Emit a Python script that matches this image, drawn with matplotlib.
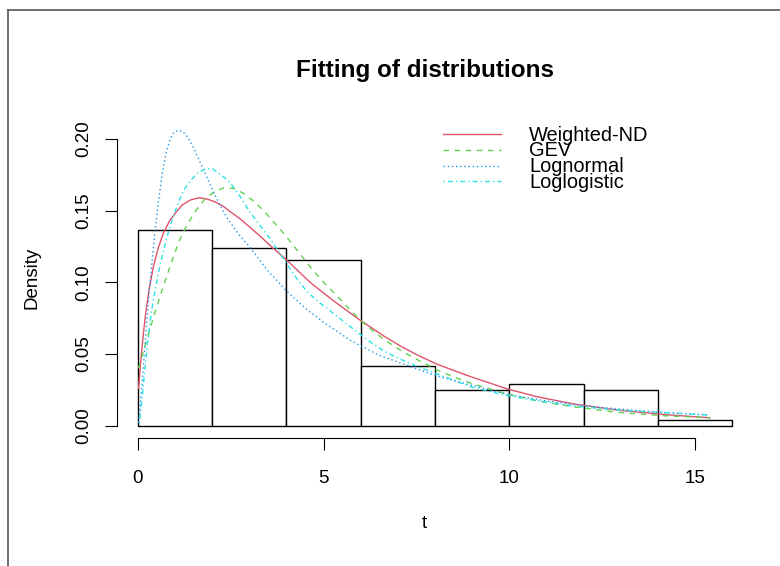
import numpy as np
import matplotlib
matplotlib.use("Agg")
import matplotlib.pyplot as plt
from matplotlib.lines import Line2D

plt.rcParams['font.family'] = ['Liberation Sans', 'DejaVu Sans']

# Histogram of observed t values
bin_edges = [0, 2, 4, 6, 8, 10, 12, 14, 16]
bin_counts = [33, 30, 28, 10, 6, 7, 6, 1]

# Fitted densities evaluated along t
wnd_t = [0.02, 0.08, 0.15, 0.22, 0.31, 0.42, 0.55, 0.70, 0.86, 1.03, 1.20, 1.42, 1.65,
         1.88, 2.09, 2.30, 2.50, 2.72, 2.99, 3.30, 3.61, 4.01, 4.35, 4.68, 5.00, 5.40,
         5.98, 6.65, 7.10, 7.54, 8.08, 8.97, 9.95, 10.76, 11.74, 12.90, 14.24, 15.40]
wnd_d = [0.026, 0.045, 0.064, 0.080, 0.096, 0.111, 0.124, 0.135, 0.143, 0.149, 0.154,
         0.1575, 0.159, 0.158, 0.156, 0.153, 0.149, 0.145, 0.139, 0.132, 0.1245, 0.1155,
         0.107, 0.099, 0.0925, 0.0845, 0.0736, 0.062, 0.055, 0.049, 0.0425, 0.034,
         0.0255, 0.020, 0.015, 0.0108, 0.0075, 0.0054]

gev_t = [0.02, 0.22, 0.44, 0.66, 0.88, 1.10, 1.32, 1.56, 1.80, 2.05, 2.32, 2.59, 2.85,
         3.08, 3.35, 3.61, 3.88, 4.15, 4.42, 4.68, 5.00, 5.40, 5.70, 6.02, 6.33, 6.65,
         7.10, 7.54, 8.08, 8.50, 8.97, 9.86, 10.76, 11.74, 12.90, 14.24, 15.40]
gev_d = [0.040, 0.058, 0.077, 0.095, 0.112, 0.128, 0.140, 0.150, 0.158, 0.163, 0.166,
         0.1655, 0.162, 0.1574, 0.151, 0.1435, 0.1355, 0.127, 0.118, 0.1095, 0.100,
         0.0895, 0.081, 0.0728, 0.066, 0.0597, 0.052, 0.0457, 0.0385, 0.034, 0.0295,
         0.0225, 0.0171, 0.0130, 0.0092, 0.0067, 0.0054]

lnorm_t = [0.02, 0.06, 0.10, 0.15, 0.20, 0.25, 0.30, 0.38, 0.47, 0.57, 0.66, 0.76, 0.87,
           0.98, 1.09, 1.22, 1.35, 1.48, 1.62, 1.78, 1.95, 2.15, 2.40, 2.70, 3.00, 3.50,
           4.00, 4.50, 5.00, 5.75, 6.50, 7.25, 8.00, 9.00, 10.00, 11.00, 12.00, 13.00,
           14.00, 15.40]
lnorm_d = [0.002, 0.012, 0.025, 0.041, 0.058, 0.075, 0.091, 0.114, 0.137, 0.159, 0.176,
           0.190, 0.200, 0.205, 0.206, 0.205, 0.201, 0.195, 0.187, 0.178, 0.168, 0.157,
           0.145, 0.134, 0.125, 0.108, 0.094, 0.082, 0.072, 0.059, 0.049, 0.042, 0.035,
           0.028, 0.0215, 0.0172, 0.0138, 0.0114, 0.0093, 0.0074]

llogis_t = [0.04, 0.08, 0.13, 0.19, 0.26, 0.33, 0.40, 0.50, 0.60, 0.72, 0.84, 0.97, 1.11,
            1.26, 1.42, 1.62, 1.85, 2.02, 2.18, 2.34, 2.50, 2.75, 2.99, 3.25, 3.52, 3.88,
            4.24, 4.55, 4.86, 5.13, 5.40, 5.94, 6.30, 6.65, 7.10, 7.54, 8.26, 8.97, 9.86,
            10.76, 11.74, 12.90, 14.24, 15.40]
llogis_d = [0.0015, 0.010, 0.0225, 0.039, 0.057, 0.072, 0.085, 0.099, 0.112, 0.125,
            0.1365, 0.147, 0.157, 0.165, 0.171, 0.1765, 0.1795, 0.179, 0.176, 0.173,
            0.169, 0.160, 0.150, 0.141, 0.1318, 0.118, 0.104, 0.0935, 0.0864, 0.081,
            0.0755, 0.0645, 0.0575, 0.0515, 0.046, 0.041, 0.034, 0.027, 0.0213, 0.0173,
            0.0136, 0.0108, 0.0089, 0.0072]

labels = ["Weighted-ND", "GEV", "Lognormal", "Loglogistic"]
colors = ["#DF536B", "#61D04F", "#2297E6", "#28E2E5"]
styles = ["-", (0, (4, 4)), (0, (1, 2)), (0, (1, 2.2, 3.5, 2.2))]

W, H = 780, 566
fig = plt.figure(figsize=(W / 100, H / 100), dpi=100)


def fx(px):
    return px / W


def fy(py):
    return 1 - py / H


# outer frame
fig.add_artist(Line2D([fx(8), fx(8)], [fy(10), -0.1], color="#555555", lw=1.2))
fig.add_artist(Line2D([fx(8), 1.1], [fy(10), fy(10)], color="#555555", lw=1.2))

# plot region in pixels and the data scale that goes with it
left, right, top, bottom = 116.7, 758.0, 119.0, 437.5
x0_px, x_scale = 137.8, 37.15
y0_px, y_scale = 425.5, 1432.5
ax = fig.add_axes([fx(left), fy(bottom), (right - left) / W, (bottom - top) / H])
ax.set_xlim((left - x0_px) / x_scale, (right - x0_px) / x_scale)
ax.set_ylim((y0_px - bottom) / y_scale, (y0_px - top) / y_scale)

edges = np.array(bin_edges, dtype=float)
counts = np.array(bin_counts, dtype=float)
widths = np.diff(edges)
dens = counts / (counts.sum() * widths)
ax.bar(edges[:-1], dens, width=widths, align="edge", facecolor="white",
       edgecolor="black", lw=1.0)

series = [(wnd_t, wnd_d), (gev_t, gev_d), (lnorm_t, lnorm_d), (llogis_t, llogis_d)]
for (t, d), c, ls in zip(series, colors, styles):
    ax.plot(t, d, color=c, linestyle=ls, lw=1.0)

for s in ["top", "right"]:
    ax.spines[s].set_visible(False)
ax.spines["left"].set_bounds(0, 0.2)
ax.spines["bottom"].set_bounds(0, 15)
ax.set_xticks([0, 5, 10, 15])
ax.set_xticklabels(["0", "5", "10", "15"])
ax.set_yticks([0, 0.05, 0.10, 0.15, 0.20])
ax.set_yticklabels(["0.00", "0.05", "0.10", "0.15", "0.20"], rotation=90, va="center")
ax.tick_params(axis="both", direction="out", length=8.5, width=0.8, labelsize=13.5)
ax.tick_params(axis="x", pad=15)
ax.tick_params(axis="y", pad=9)

fig.text(fx(425), fy(77), "Fitting of distributions", ha="center", va="baseline",
         fontsize=17.5, fontweight="bold")
fig.text(fx(424.5), fy(523.5), "t", ha="center", va="center", fontsize=13.5)
fig.text(fx(32), fy(278), "Density", ha="center", va="center", rotation=90, fontsize=13.5)

# legend
line_y = [134, 150, 165.5, 181]
base_y = [140.7, 156.3, 171.9, 187.5]
for lab, c, ls, ly, by in zip(labels, colors, styles, line_y, base_y):
    fig.add_artist(Line2D([fx(442.7), fx(500.7)], [fy(ly), fy(ly)], color=c,
                          linestyle=ls, lw=1.0))
    fig.text(fx(529.3), fy(by), lab, ha="left", va="baseline", fontsize=14.4)

fig.savefig("out.png", dpi=100)
